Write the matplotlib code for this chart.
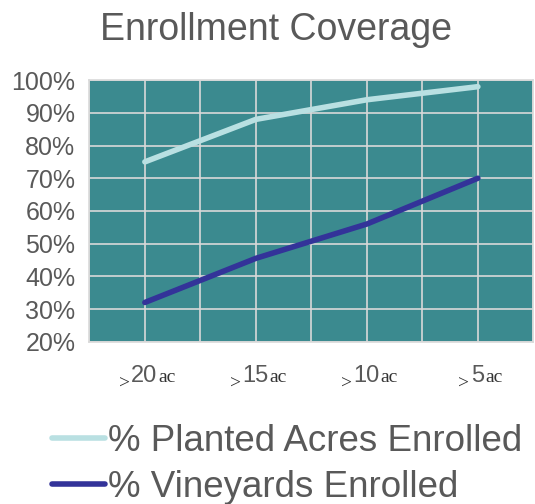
import matplotlib
matplotlib.use("Agg")
import matplotlib.pyplot as plt
from matplotlib.offsetbox import TextArea, HPacker, AnnotationBbox

# Data
categories = ["20", "15", "10", "5"]
planted_acres = [75, 88, 94, 98]
vineyards = [32, 45.5, 56, 70]
y_ticks = [20, 30, 40, 50, 60, 70, 80, 90, 100]

plt.rcParams["font.family"] = ["Liberation Sans", "DejaVu Sans"]
plt.rcParams["mathtext.fontset"] = "custom"
plt.rcParams["mathtext.rm"] = "Liberation Serif"
gray = "#595959"

fig = plt.figure(figsize=(5.35, 5.04), dpi=100)
ax = fig.add_axes([0.167, 0.322, 0.830, 0.519])
ax.set_facecolor("#3B8A8F")

x = list(range(len(categories)))
ax.plot(x, planted_acres, color="#B9E0E2", lw=4, solid_capstyle="round",
        label="% Planted Acres Enrolled", zorder=3)
ax.plot(x, vineyards, color="#333399", lw=4, solid_capstyle="round",
        label="% Vineyards Enrolled", zorder=3)

ax.set_xlim(-0.5, len(categories) - 0.5)
ax.set_ylim(20, 100)
ax.set_yticks(y_ticks)
ax.set_yticklabels([f"{v}%" for v in y_ticks], fontsize=18, color=gray)
ax.set_xticks([i - 0.5 for i in range(len(categories) + 1)], minor=False)
ax.set_xticks(x, minor=True)
ax.set_xticklabels([])
ax.tick_params(length=0, pad=10)
ax.tick_params(which="minor", length=0)
ax.grid(True, which="both", color="#D9D9D9", lw=1.2)
ax.set_axisbelow(True)
for s in ax.spines.values():
    s.set_color("#D9D9D9")
    s.set_linewidth(1.2)

# x labels: lowered small serif ">" + sans number + serif "ac"
for i, c in enumerate(categories):
    parts = [
        TextArea(r"$_{\mathrm{>}}$", textprops=dict(fontsize=20, color="#333333")),
        TextArea(c, textprops=dict(family="Liberation Sans", fontsize=17, color=gray)),
        TextArea("ac", textprops=dict(family="Liberation Serif", fontsize=14, color="#333333")),
    ]
    box = HPacker(children=parts, align="baseline", pad=0, sep=1)
    ab = AnnotationBbox(box, (i, 0), xycoords=("data", "axes fraction"),
                        xybox=(0, -24), boxcoords="offset points",
                        frameon=False, box_alignment=(0.5, 0.5))
    ax.add_artist(ab)

fig.text(0.515, 0.94, "Enrollment Coverage", ha="center", va="center",
         fontsize=27, color=gray)

leg = fig.legend(loc="lower left", bbox_to_anchor=(0.035, -0.067), frameon=False,
                 fontsize=26.5, handlelength=1.45, handletextpad=0.08,
                 labelspacing=0.3, labelcolor=gray)

fig.savefig("out.png", dpi=100)
